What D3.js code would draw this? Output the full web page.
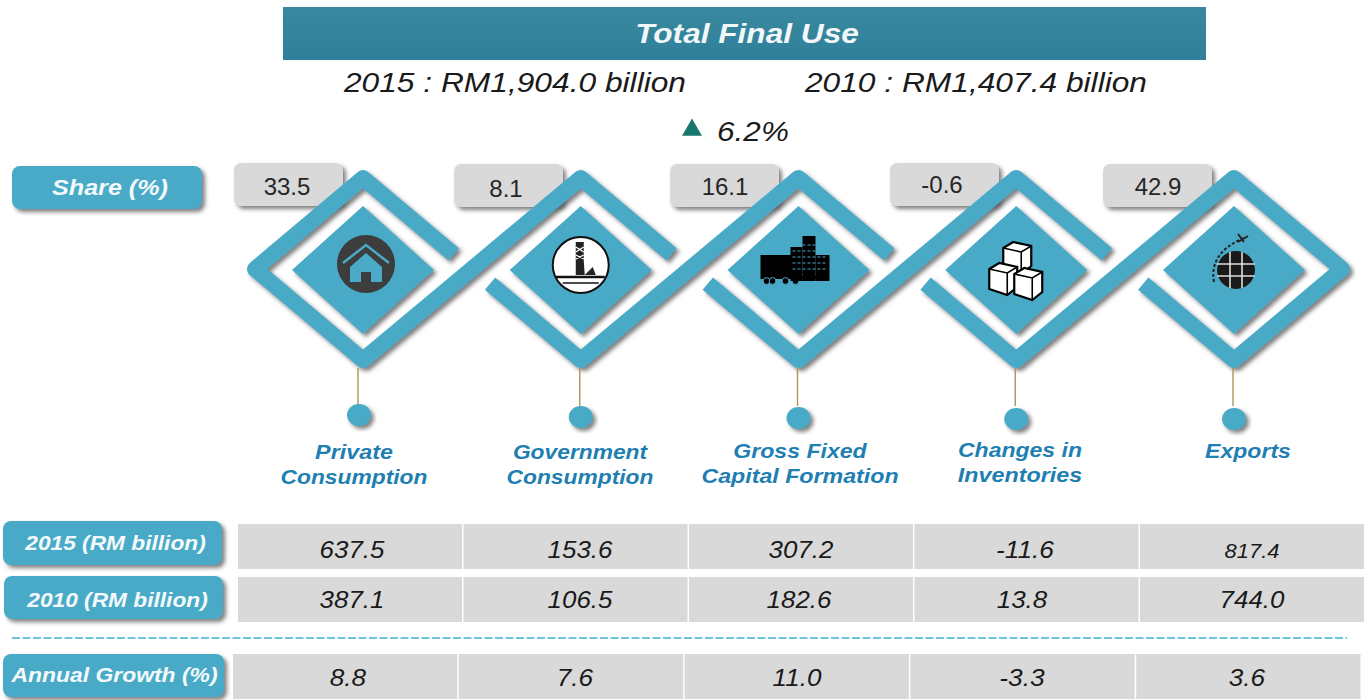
<!DOCTYPE html>
<html>
<head>
<meta charset="utf-8">
<script src="https://cdn.jsdelivr.net/npm/d3@7/dist/d3.min.js"></script>
<style>
  html, body { margin: 0; padding: 0; background: #fff; }
  svg { display: block; font-family: "Liberation Sans", Arial, sans-serif; }
</style>
</head>
<body>
<svg id="chart" width="1367" height="700"></svg>
<script>
var categories = ['Private Consumption', 'Government Consumption', 'Gross Fixed Capital Formation', 'Changes in Inventories', 'Exports'];
var labelLines = [['Private', 'Consumption'], ['Government', 'Consumption'], ['Gross Fixed', 'Capital Formation'], ['Changes in', 'Inventories'], ['Exports']];
var share = ['33.5', '8.1', '16.1', '-0.6', '42.9'];
var values2015 = ['637.5', '153.6', '307.2', '-11.6', '817.4'];
var values2010 = ['387.1', '106.5', '182.6', '13.8', '744.0'];
var growth = ['8.8', '7.6', '11.0', '-3.3', '3.6'];

var title = 'Total Final Use';
var total2015 = '2015 : RM1,904.0 billion';
var total2010 = '2010 : RM1,407.4 billion';
var totalGrowth = '6.2%';

var blue = '#4aaac8', gray = '#d9d9d9', labelBlue = '#1f7fb2';
var svg = d3.select('#chart');

var defs = svg.append('defs');
var shadow = defs.append('filter').attr('id', 'shadow')
    .attr('x', '-20%').attr('y', '-20%').attr('width', '145%').attr('height', '145%');
shadow.append('feDropShadow').attr('dx', 3).attr('dy', 3).attr('stdDeviation', 2)
    .attr('flood-color', '#555').attr('flood-opacity', 0.75);
var header = defs.append('linearGradient').attr('id', 'header').attr('x1', 0).attr('x2', 0).attr('y1', 0).attr('y2', 1);
header.append('stop').attr('offset', 0).attr('stop-color', '#38889f');
header.append('stop').attr('offset', 1).attr('stop-color', '#31809a');

// scales: diamonds sit on a point scale, table cells on two band scales
var x = d3.scalePoint().domain(categories).range([363, 1234]);
var xTable = d3.scaleBand().domain(categories).range([238, 1365.5]);
var xGrowth = d3.scaleBand().domain(categories).range([233, 1362]);
var cy = 269;

// the original type is stretched sideways, so widen the glyphs rather than space them out
function text(parent, str, px, py, size, opts) {
    opts = opts || {};
    var t = parent.append('text')
        .attr('x', px).attr('y', py)
        .attr('text-anchor', opts.anchor || 'middle')
        .attr('font-size', size)
        .attr('font-style', opts.italic === false ? 'normal' : 'italic')
        .attr('font-weight', opts.bold ? 'bold' : 'normal')
        .attr('fill', opts.fill || '#1a1a1a')
        .text(str);
    var width = t.node().getComputedTextLength() + (opts.spacing || 0) * str.length;
    return t.attr('textLength', width).attr('lengthAdjust', 'spacingAndGlyphs');
}

// header
svg.append('rect').attr('x', 283).attr('y', 7).attr('width', 923).attr('height', 53).attr('fill', 'url(#header)');
text(svg, title, 747, 43, 28, { bold: true, fill: '#f2f7f9', spacing: 1.7 });
text(svg, total2015, 515, 92, 28, { spacing: 1.67 });
text(svg, total2010, 976, 92, 28, { spacing: 1.67 });
svg.append('path').attr('d', d3.symbol(d3.symbolTriangle, 170)()).attr('transform', 'translate(692,130)').attr('fill', '#17776c');
text(svg, totalGrowth, 753, 141, 28, { spacing: 2 });

function pill(px, py, w, h, str, size, spacing, dx, dy) {
    svg.append('rect').attr('x', px).attr('y', py).attr('width', w).attr('height', h)
        .attr('rx', 8).attr('fill', blue).attr('filter', 'url(#shadow)');
    text(svg, str, px + w / 2 + dx, py + h / 2 + size * 0.33 + dy, size, { bold: true, fill: '#f4fafc', spacing: spacing });
}
pill(12, 166, 190, 43, 'Share (%)', 22, 1.6, 3, 0);

// share boxes, these are not evenly spaced in the picture
var boxLeft = [234, 454, 670, 890, 1103];
var boxTop = [163, 164, 164, 163, 164];
var boxTextX = [287, 506, 725, 942, 1158];
var boxTextY = [195, 197, 195, 193, 195];
svg.selectAll('rect.share').data(share).join('rect').attr('class', 'share')
    .attr('x', function(d, i) { return boxLeft[i]; })
    .attr('y', function(d, i) { return boxTop[i]; })
    .attr('width', 109).attr('height', 43).attr('rx', 7)
    .attr('fill', gray).attr('filter', 'url(#shadow)');
svg.selectAll('text.share').data(share).join('text').attr('class', 'share')
    .attr('x', function(d, i) { return boxTextX[i]; })
    .attr('y', function(d, i) { return boxTextY[i]; })
    .attr('text-anchor', 'middle').attr('font-size', 24).attr('fill', '#262626')
    .text(function(d) { return d; });

// ribbon linking the diamonds, subpaths overlap so every corner gets a round join
var halfW = 108, halfH = 91, armEnd = 0.84;
var last = categories.length - 1;
var ribbon = d3.path();
categories.forEach(function(c, i) {
    var cx = x(c);
    if (i === 0) {
        ribbon.moveTo(cx + halfW * armEnd, cy - halfH * (1 - armEnd));
        ribbon.lineTo(cx, cy - halfH);
        ribbon.lineTo(cx - halfW, cy);
        ribbon.lineTo(cx, cy + halfH);
    } else {
        ribbon.moveTo(cx - halfW * armEnd, cy + halfH * (1 - armEnd));
        ribbon.lineTo(cx, cy + halfH);
    }
    if (i < last) {
        var next = x(categories[i + 1]);
        ribbon.lineTo(next, cy - halfH);
        if (i + 1 < last) {
            ribbon.lineTo(next + halfW * armEnd, cy - halfH * (1 - armEnd));
        } else {
            ribbon.lineTo(next + halfW, cy);
            ribbon.lineTo(next, cy + halfH);
        }
    } else {
        ribbon.lineTo(cx + halfW, cy);
    }
});
svg.append('path').attr('d', ribbon.toString()).attr('fill', 'none')
    .attr('stroke', blue).attr('stroke-width', 16).attr('stroke-linejoin', 'round')
    .attr('filter', 'url(#shadow)');

// inner diamonds
svg.selectAll('path.inner').data(categories).join('path').attr('class', 'inner')
    .attr('d', function(d) {
        var cx = x(d);
        return d3.line()([[cx, cy - 63], [cx + 71, cy + 1], [cx, cy + 65], [cx - 71, cy + 1]]) + 'Z';
    })
    .attr('fill', blue).attr('filter', 'url(#shadow)');

// stems and dots under each diamond
var stemOffset = [-5, -1, -1, -1, -1];
var dotOffset = [-4, 0, 0, 0, 0];
var dotY = [415, 417, 418, 419, 419];
svg.selectAll('line.stem').data(categories).join('line').attr('class', 'stem')
    .attr('x1', function(d, i) { return x(d) + stemOffset[i]; })
    .attr('x2', function(d, i) { return x(d) + stemOffset[i]; })
    .attr('y1', cy + 99).attr('y2', cy + 137)
    .attr('stroke', '#a8975a').attr('stroke-width', 1.4);
svg.selectAll('ellipse.dot').data(categories).join('ellipse').attr('class', 'dot')
    .attr('cx', function(d, i) { return x(d) + dotOffset[i]; })
    .attr('cy', function(d, i) { return dotY[i]; })
    .attr('rx', 12).attr('ry', 11)
    .attr('fill', blue).attr('filter', 'url(#shadow)');

// category labels
var labelX = [354, 580, 800, 1020, 1248];
var labelY = [459, 459, 458, 457, 458];
labelLines.forEach(function(lines, i) {
    lines.forEach(function(line, j) {
        text(svg, line, labelX[i], labelY[i] + j * 24.5, 20.5, { bold: true, fill: labelBlue, spacing: 1.35 });
    });
});

// icons
function iconHouse(g) {
    g.append('circle').attr('r', 29).attr('fill', '#3d3d3d');
    g.append('path').attr('d', 'M-23,-1 L0,-19 L23,-1').attr('fill', 'none').attr('stroke', blue).attr('stroke-width', 2.5);
    g.append('path').attr('d', 'M-16,3 L0,-11 L16,3 L16,18 L5,18 L5,8 L-5,8 L-5,18 L-16,18 Z').attr('fill', blue);
}
function iconRig(g) {
    g.append('circle').attr('r', 28).attr('fill', '#fff').attr('stroke', '#111').attr('stroke-width', 2);
    g.append('path').attr('d', 'M-5,-23 L3,-23 L3,-4 L-5,-4 Z M-5,-4 L3,-4 L4,10 L-5,10 Z').attr('fill', '#222');
    g.append('path').attr('d', 'M-5,-18 L3,-13 M3,-18 L-5,-13 M-5,-10 L3,-6 M3,-10 L-5,-6').attr('stroke', '#fff').attr('stroke-width', 1.3);
    g.append('path').attr('d', 'M4,10 L12,2 L15,10 Z').attr('fill', '#222');
    g.append('path').attr('d', 'M-25,12 L24,12').attr('stroke', '#111').attr('stroke-width', 2.5);
    g.append('path').attr('d', 'M-18,18 L18,18').attr('stroke', '#111').attr('stroke-width', 1.5);
}
function iconFreight(g) {
    g.append('rect').attr('x', -39).attr('y', -14).attr('width', 31).attr('height', 21).attr('fill', '#000');
    g.append('rect').attr('x', -39).attr('y', 7).attr('width', 66).attr('height', 3).attr('fill', '#000');
    [-33, -27, -14, -4].forEach(function(wx) {
        g.append('circle').attr('cx', wx).attr('cy', 12).attr('r', 3.4).attr('fill', '#000').attr('stroke', blue).attr('stroke-width', 1);
    });
    g.append('rect').attr('x', -9).attr('y', -22).attr('width', 12).attr('height', 34).attr('fill', '#000');
    g.append('rect').attr('x', 3).attr('y', -33).attr('width', 13).attr('height', 45).attr('fill', '#000');
    g.append('rect').attr('x', 16).attr('y', -14).attr('width', 14).attr('height', 26).attr('fill', '#000');
    [-24, -18, -12, -6, 0].forEach(function(wy) {
        g.append('path').attr('d', 'M-7,' + wy + ' L28,' + wy).attr('stroke', blue).attr('stroke-width', 1).attr('stroke-dasharray', '3 2');
    });
}
function iconBoxes(g) {
    var box = function(bx, by) {
        var b = g.append('g').attr('transform', 'translate(' + bx + ',' + by + ')');
        b.append('path').attr('d', 'M-14,-9 L-4,-15 L14,-11 L14,9 L4,17 L-14,11 Z').attr('fill', '#fff').attr('stroke', '#000').attr('stroke-width', 2.2);
        b.append('path').attr('d', 'M-14,-9 L4,-5 L14,-11 M4,-5 L4,17').attr('fill', 'none').attr('stroke', '#000').attr('stroke-width', 1.6);
    };
    box(-1, -13);
    box(-15, 8);
    box(10, 13);
}
function iconGlobe(g) {
    g.append('circle').attr('r', 19).attr('fill', '#1a1a1a');
    g.append('path').attr('d', 'M-19,-6 L19,-6 M-19,6 L19,6 M-6,-18 L-6,18 M6,-18 L6,18').attr('stroke', '#ddd').attr('stroke-width', 1.6);
    g.append('path').attr('d', 'M-22,12 C-26,-10 -12,-24 8,-32').attr('fill', 'none').attr('stroke', '#222').attr('stroke-width', 2).attr('stroke-dasharray', '3 2');
    g.append('path').attr('d', 'M2,-36 L8,-28 M12,-34 L2,-28').attr('stroke', '#222').attr('stroke-width', 2);
}
var iconFns = [iconHouse, iconRig, iconFreight, iconBoxes, iconGlobe];
var iconOffset = [[3, -5], [0, -4], [1, 0], [2, 1], [2, 1]];
categories.forEach(function(c, i) {
    var g = svg.append('g').attr('transform', 'translate(' + (x(c) + iconOffset[i][0]) + ',' + (cy + iconOffset[i][1]) + ')');
    iconFns[i](g);
});

// table rows
function row(scale, top, h, vals, textX, textY) {
    svg.append('g').selectAll('rect').data(categories).join('rect')
        .attr('x', function(d) { return scale(d); })
        .attr('y', top)
        .attr('width', scale.bandwidth() - 1.5)
        .attr('height', h)
        .attr('fill', gray);
    vals.forEach(function(v, i) {
        // 817.4 is set smaller than the rest in the original
        text(svg, v, textX[i], textY, v === '817.4' ? 19.5 : 23.5, { spacing: 1.2 });
    });
}
var textX2015 = [352, 580, 801, 1025, 1252];
var textX2010 = [352, 580, 799, 1022, 1252];
var textXGrowth = [348, 575, 797, 1022, 1247];
row(xTable, 524, 45, values2015, textX2015, 558);
row(xTable, 577, 45, values2010, textX2010, 608);
row(xGrowth, 654, 45, growth, textXGrowth, 686);

pill(3, 521, 219, 44, '2015 (RM billion)', 19.5, 1.5, 3, 1);
pill(4, 576, 219, 43, '2010 (RM billion)', 19.5, 1.5, 4, 3);
pill(3, 654, 221, 43, 'Annual Growth (%)', 19.5, 1.8, 1, 0);

svg.append('line').attr('x1', 12).attr('x2', 1347).attr('y1', 638).attr('y2', 638)
    .attr('stroke', '#3fb4d4').attr('stroke-width', 1.4).attr('stroke-dasharray', '8 2.5');
</script>
</body>
</html>
